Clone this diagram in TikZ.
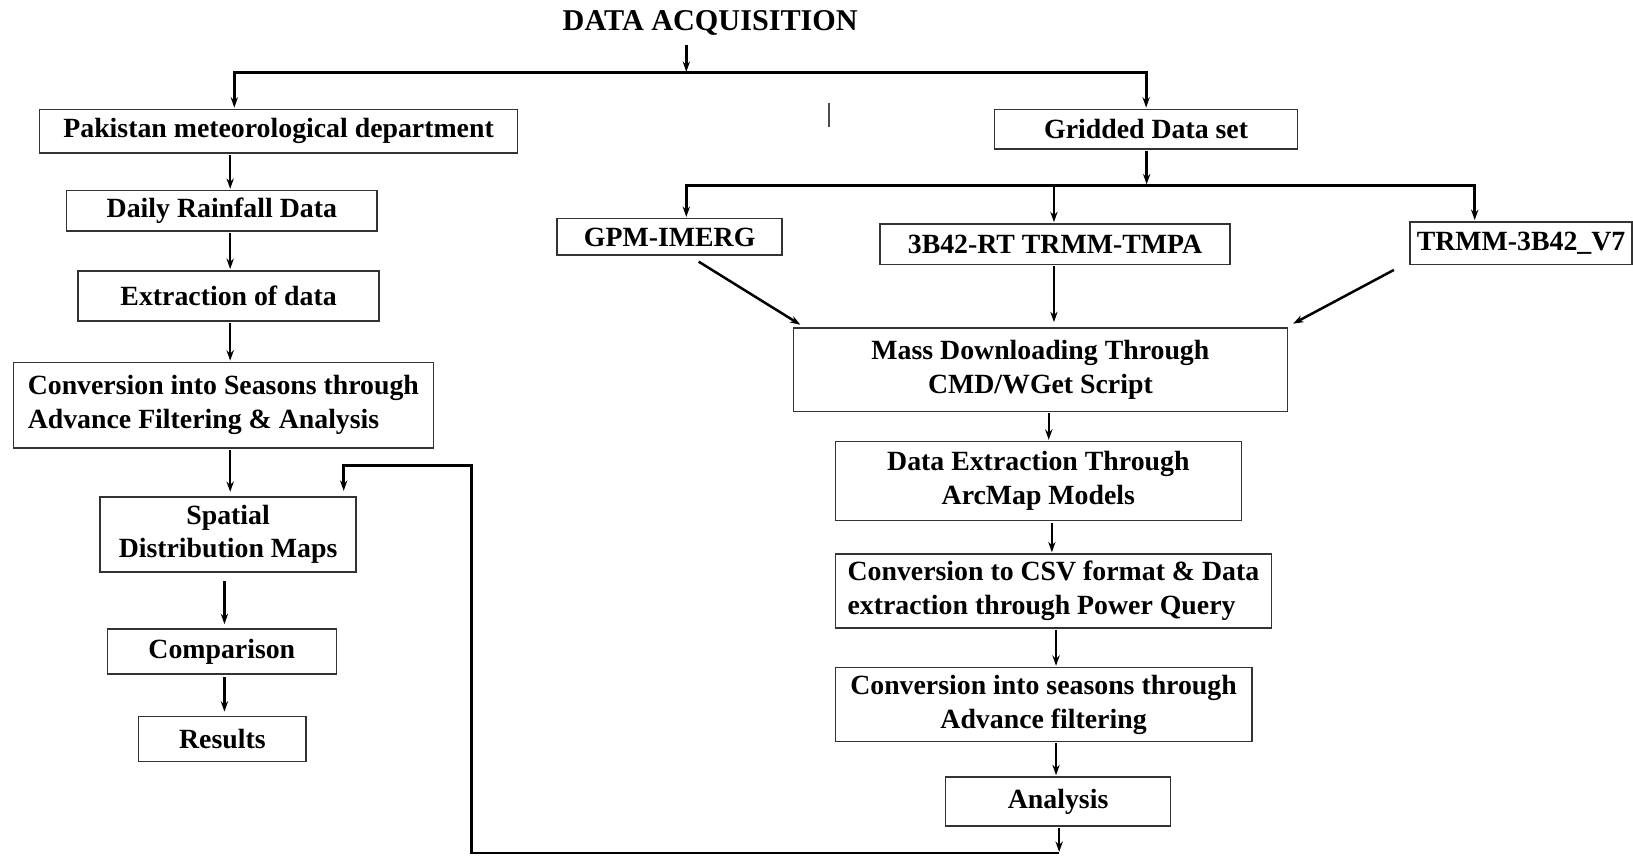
\documentclass[tikz,border=0pt]{standalone}
\usepackage{fontspec}
\setmainfont{Liberation Serif}
\usetikzlibrary{arrows.meta,calc}
\begin{document}
\begin{tikzpicture}[x=1pt,y=-1pt,
  box/.style={draw=black!80, line width=1.4pt, inner sep=0pt, font=\fontsize{26.7pt}{32.5pt}\selectfont\bfseries, align=center},
  tip/.style={-{Stealth[length=10pt,width=7pt]}},
  arr/.style={line width=2.4pt, tip, shorten <=1pt, shorten >=1pt},
  ln/.style={line width=2.8pt},
]
\fill[white] (0,0) rectangle (1568,823);
\useasboundingbox (0,0) rectangle (1568,823);

% title
\node[inner sep=0pt, font=\fontsize{29pt}{32pt}\selectfont\bfseries] (title) at (682,22) {DATA ACQUISITION};

% left column
\node[box, minimum width=459pt, minimum height=42pt] (pak) at (267.5,126) {Pakistan meteorological department};
\node[box, minimum width=298pt, minimum height=39pt] (daily) at (213,202.5) {Daily Rainfall Data};
\node[box, minimum width=289pt, minimum height=48pt] (extr) at (219.5,284) {Extraction of data};
\node[box, minimum width=403pt, minimum height=82pt, align=left] (convL) at (214.5,389) {Conversion into Seasons through\\Advance Filtering \& Analysis};
\node[box, minimum width=246pt, minimum height=72pt] (spatial) at (219,513) {Spatial\\Distribution Maps};
\node[box, minimum width=220pt, minimum height=43pt] (comp) at (213,625.5) {Comparison};
\node[box, minimum width=161pt, minimum height=43pt] (res) at (213.5,709.5) {Results};

% right column
\node[box, minimum width=291pt, minimum height=38pt] (grid) at (1100.5,124) {Gridded Data set};
\node[box, minimum width=216pt, minimum height=35pt] (gpm) at (643,227.5) {GPM-IMERG};
\node[box, minimum width=336pt, minimum height=39pt] (trmmt) at (1013,234.5) {3B42-RT TRMM-TMPA};
\node[box, minimum width=213pt, minimum height=41pt] (v7) at (1460.5,233.5) {TRMM-3B42\_V7};
\node[box, minimum width=474pt, minimum height=80pt] (mass) at (999,355) {Mass Downloading Through\\CMD/WGet Script};
\node[box, minimum width=390pt, minimum height=76pt] (dext) at (997,462) {Data Extraction Through\\ArcMap Models};
\node[box, minimum width=419pt, minimum height=71pt, align=left] (csv) at (1011.5,567.5) {Conversion to CSV format \& Data\\extraction through Power Query};
\node[box, minimum width=400pt, minimum height=71pt] (convR) at (1002,676.5) {Conversion into seasons through\\Advance filtering};
\node[box, minimum width=216pt, minimum height=47pt] (ana) at (1016,769.5) {Analysis};

% top split
\coordinate (s1) at (659,70);
\coordinate (xa) at (225,0);
\draw[arr] ($(title.south -| s1)+(0,8)$) -- (s1);
\draw[ln, tip, shorten >=1pt] (s1) -| (xa |- pak.north);
\draw[ln, tip, shorten >=1pt] (s1) -| (grid.north);

% left chain
\coordinate (lc) at (221,0);
\coordinate (lc2) at (215.5,0);
\draw[arr] (lc |- pak.south) -- (lc |- daily.north);
\draw[arr] (lc |- daily.south) -- (lc |- extr.north);
\draw[arr] (lc |- extr.south) -- (lc |- convL.north);
\draw[arr] (lc |- convL.south) -- ($(lc |- spatial.north)+(0,-3)$);
\draw[arr, shorten <=8pt] (lc2 |- spatial.south) -- ($(lc2 |- comp.north)+(0,-3)$);
\draw[arr, shorten <=2pt] (lc2 |- comp.south) -- ($(lc2 |- res.north)+(0,-3)$);

% gridded split
\coordinate (s2) at (1101,178);
\coordinate (xg) at (659,0);
\coordinate (xt) at (1012,0);
\coordinate (xv) at (1416,0);
\draw[arr] (grid.south -| s2) -- (s2);
\draw[ln, tip, shorten >=1pt] (s2) -| (xg |- gpm.north);
\draw[ln, tip, shorten >=1pt] (s2) -| (xv |- v7.north);
\draw[ln, tip, shorten >=1pt] (xt |- s2) -- (xt |- trmmt.north);

% into mass downloading
\draw[arr] ($(gpm.south)+(27,5)$) -- ($(mass.north west)+(8,-2)$);
\draw[arr] (xt |- trmmt.south) -- ($(xt |- mass.north)+(0,-4)$);
\draw[arr] ($(v7.south west)+(-14,4)$) -- ($(mass.north east)+(4,-3)$);

% right chain
\coordinate (r1) at (1007,0);
\coordinate (r2) at (1010,0);
\coordinate (r3) at (1014,0);
\draw[arr] (r1 |- mass.south) -- (r1 |- dext.north);
\draw[arr] (r2 |- dext.south) -- (r2 |- csv.north);
\draw[arr] (r3 |- csv.south) -- (r3 |- convR.north);
\draw[arr] (r3 |- convR.south) -- (r3 |- ana.north);

% feedback loop
\coordinate (fbA) at (1017,819);
\coordinate (fbB) at (453,819);
\coordinate (fbC) at (453,447);
\coordinate (fbD) at (330,447);
\draw[arr] (fbA |- ana.south) -- (fbA);
\draw[ln, tip, shorten >=5pt] (fbA) -- (fbB) -- (fbC) -- (fbD) -- (fbD |- spatial.north);

% stray mark
\draw[line width=1pt, black!70] (796,99) -- (796,122);
\end{tikzpicture}
\end{document}
